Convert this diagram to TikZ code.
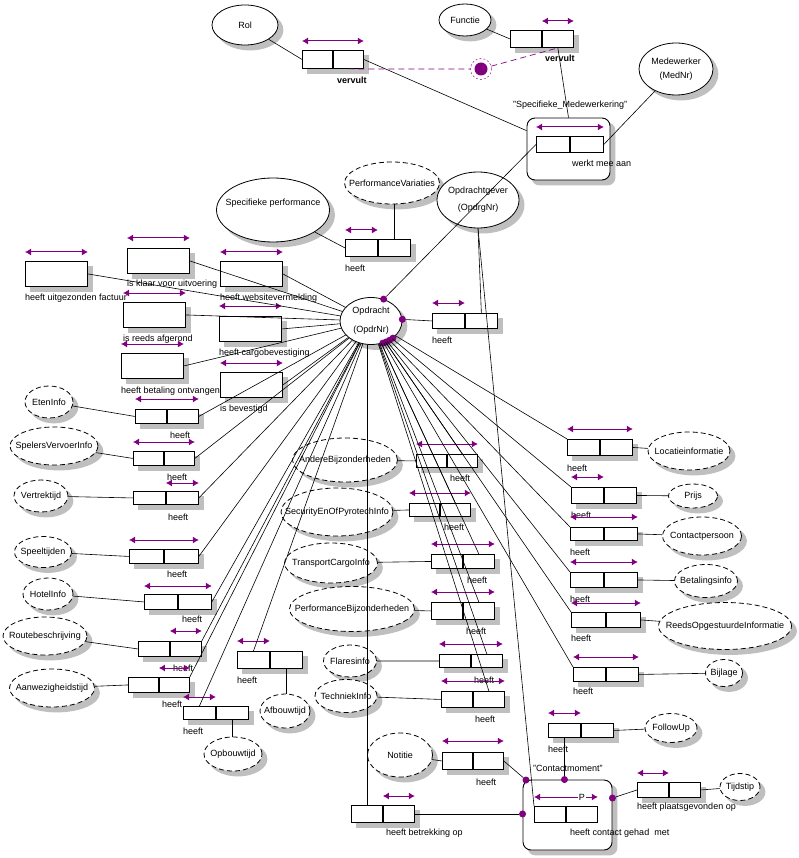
\documentclass[tikz,border=0pt]{standalone}
\usepackage{fontspec}
\setmainfont{Liberation Sans}
\usetikzlibrary{positioning,shapes.geometric,arrows.meta,calc}
\definecolor{orm}{RGB}{128,0,128}
\colorlet{grijs}{black!25}
\pgfdeclarelayer{achter}
\pgfsetlayers{achter,main}

\begin{document}
\begin{tikzpicture}[x=1pt,y=-1pt,font=\fontsize{9}{10}\selectfont,
  ot/.style={ellipse,draw,line width=0.8pt,fill=white,inner sep=0pt},
  vt/.style={ot,dash pattern=on 5pt off 3pt},
  rol/.style 2 args={rectangle,draw,line width=0.9pt,fill=white,inner sep=0pt,anchor=north west,minimum width=#1,minimum height=#2},
  obj/.style={rectangle,draw,rounded corners=8pt,line width=0.9pt,fill=white},
  lbl/.style={anchor=west,inner sep=0pt},
  uq/.style={orm,line width=1pt,{Latex[length=6pt,width=7pt]}-{Latex[length=6pt,width=7pt]}},
  ln/.style={line width=0.6pt},
  pt/.style={circle,fill=orm,inner sep=0pt,minimum size=7pt}]
\useasboundingbox (0,0) rectangle (799,858);

% objecttypes
\node[ot,minimum width=66,minimum height=40,label=center:Rol] (eRol) at (245,25) {};
\node[ot,minimum width=52,minimum height=32,label=center:Functie] (eFun) at (465,20) {};
\node[ot,minimum width=74,minimum height=52,label={[align=center]center:Medewerker\\[4pt](MedNr)}] (eMed) at (676,69) {};
\node[ot,minimum width=82,minimum height=56,label={[align=center]center:Opdrachtgever\\[7pt](OpdrgNr)}] (eGever) at (478,200) {};
\node[ot,minimum width=113,minimum height=64,label={[yshift=7pt]center:Specifieke performance}] (eSpec) at (273,210) {};
\node[ot,minimum width=62,minimum height=47,label={[align=center]center:Opdracht\\[9pt](OpdrNr)}] (eOpdr) at (371,321) {};

% waardetypes
\node[vt,minimum width=95,minimum height=42,label=center:PerformanceVariaties] (ePV) at (392,183) {};
\node[vt,minimum width=48,minimum height=32,label=center:EtenInfo] (eEten) at (49,402) {};
\node[vt,minimum width=88,minimum height=38,label=center:SpelersVervoerInfo] (eSpel) at (54,446) {};
\node[vt,minimum width=54,minimum height=32,label=center:Vertrektijd] (eVert) at (41,496) {};
\node[vt,minimum width=57,minimum height=31,label=center:Speeltijden] (eSpeelt) at (43,552) {};
\node[vt,minimum width=50,minimum height=32,label=center:HotelInfo] (eHotel) at (48,594) {};
\node[vt,minimum width=84,minimum height=38,label=center:Routebeschrijving] (eRoute) at (45,636) {};
\node[vt,minimum width=85,minimum height=38,label=center:Aanwezigheidstijd] (eAanw) at (52,688) {};
\node[vt,minimum width=58,minimum height=34,label=center:Opbouwtijd] (eOpb) at (233,754) {};
\node[vt,minimum width=50,minimum height=34,label=center:Afbouwtijd] (eAfb) at (285,711) {};
\node[vt,minimum width=105,minimum height=44,label=center:AndereBijzonderheden] (eAndere) at (345,460) {};
\node[vt,minimum width=112,minimum height=48,label=center:SecurityEnOfPyrotechInfo] (eSec) at (337,512) {};
\node[vt,minimum width=93,minimum height=40,label=center:TransportCargoInfo] (eTrans) at (331,563) {};
\node[vt,minimum width=125,minimum height=45,label=center:PerformanceBijzonderheden] (ePerfB) at (352,609) {};
\node[vt,minimum width=53,minimum height=32,label=center:Flaresinfo] (eFlares) at (350,661) {};
\node[vt,minimum width=62,minimum height=33,label=center:TechniekInfo] (eTech) at (346,696) {};
\node[vt,minimum width=65,minimum height=44,label=center:Notitie] (eNot) at (400,755) {};
\node[vt,minimum width=82,minimum height=38,label=center:Locatieinformatie] (eLoc) at (689,451) {};
\node[vt,minimum width=49,minimum height=24,label=center:Prijs] (ePrijs) at (693,496) {};
\node[vt,minimum width=79,minimum height=38,label=center:Contactpersoon] (eCp) at (702,536) {};
\node[vt,minimum width=63,minimum height=33,label=center:Betalingsinfo] (eBetal) at (706,581) {};
\node[vt,minimum width=133,minimum height=47,label=center:ReedsOpgestuurdeInformatie] (eReeds) at (725,626) {};
\node[vt,minimum width=37,minimum height=27,label=center:Bijlage] (eBijl) at (724,673) {};
\node[vt,minimum width=52,minimum height=29,label=center:FollowUp] (eFol) at (671,728) {};
\node[vt,minimum width=40,minimum height=27,label=center:Tijdstip] (eTijd) at (740,787) {};

% vervult
\node[rol={30}{18}] (fRolL) at (302,50) {};
\node[rol={30}{18},right=0pt of fRolL] (fRolR) {};
\draw[uq] ([yshift=9pt]fRolL.north west) -- ([yshift=9pt]fRolR.north east);
\node[lbl] (tRol) at (337,80) {\bfseries vervult};
\node[rol={31}{17}] (fFunL) at (510,30) {};
\node[rol={31}{17},right=0pt of fFunL] (fFunR) {};
\draw[uq] ([yshift=9pt]fFunR.north west) -- ([yshift=9pt]fFunR.north east);
\node[lbl] (tFun) at (545,58) {\bfseries vervult};

% deelverzameling
\node[circle,draw=orm,dash pattern=on 2pt off 2pt,minimum size=21pt,inner sep=0pt] (cSub) at (481,69) {};
\node[circle,fill=orm,minimum size=13pt,inner sep=0pt] (cSubIn) at (cSub) {};
\draw[orm,line width=0.7pt,dash pattern=on 6pt off 4pt] (fRolR.south) -- (cSub);
\draw[orm,line width=0.7pt,dash pattern=on 6pt off 4pt] (cSub) -- (fFunR.south);

% Specifieke_Medewerkering
\node[obj,minimum width=83,minimum height=62] (oMed) at (568.5,149) {};
\node[lbl] (tMed) at (513,105) {"Specifieke\_Medewerkering"};
\node[rol={33}{16}] (fMedL) at (536,136) {};
\node[rol={33}{16},right=0pt of fMedL] (fMedR) {};
\draw[uq] ([yshift=9pt]fMedL.north west) -- ([yshift=9pt]fMedR.north east);
\node[lbl] (tMedF) at (572,163) {werkt mee aan};

% Contactmoment
\node[obj,minimum width=89,minimum height=70] (oCon) at (567.5,815) {};
\node[lbl] (tCon) at (533,768) {"Contactmoment"};
\node[rol={31}{16}] (fConL) at (534,806) {};
\node[rol={31}{16},right=0pt of fConL] (fConR) {};
\draw[uq] ([yshift=9pt]fConL.north west) -- node[pos=0.75,fill=white,text=black,inner sep=1pt] (tP) {P} ([yshift=9pt]fConR.north east);
\node[lbl] (tConF) at (570,833) {heeft contact gehad\ \ met};

% unaire feittypes
\node[rol={62}{25}] (uFact) at (25,261) {};
\draw[uq] ([yshift=9pt]uFact.north west) -- ([yshift=9pt]uFact.north east);
\node[lbl] (tFact) at (25,298) {heeft uitgezonden factuur};
\node[rol={62}{25}] (uKlaar) at (127,248) {};
\draw[uq] ([yshift=10pt]uKlaar.north west) -- ([yshift=10pt]uKlaar.north east);
\node[lbl] (tKlaar) at (127,284) {is klaar voor uitvoering};
\node[rol={62}{25}] (uWeb) at (220,261) {};
\draw[uq] ([yshift=9pt]uWeb.north west) -- ([yshift=9pt]uWeb.north east);
\node[lbl] (tWeb) at (220,298) {heeft websitevermelding};
\node[rol={62}{25}] (uAfg) at (123,302) {};
\draw[uq] ([yshift=9pt]uAfg.north west) -- ([yshift=9pt]uAfg.north east);
\node[lbl] (tAfg) at (123,339) {is reeds afgerond};
\node[rol={62}{25}] (uCargo) at (219,316) {};
\draw[uq] ([yshift=10pt]uCargo.north west) -- ([yshift=10pt]uCargo.north east);
\node[lbl] (tCargo) at (219,353) {heeft cargobevestiging};
\node[rol={62}{25}] (uBetaling) at (121,353) {};
\draw[uq] ([yshift=9pt]uBetaling.north west) -- ([yshift=9pt]uBetaling.north east);
\node[lbl] (tBetaling) at (121,391) {heeft betaling ontvangen};
\node[rol={62}{25}] (uBevest) at (220,372) {};
\draw[uq] ([yshift=9pt]uBevest.north west) -- ([yshift=9pt]uBevest.north east);
\node[lbl] (tBevest) at (220,409) {is bevestigd};

% binaire feittypes links
\node[rol={32}{17}] (fSpecL) at (345,239) {};
\node[rol={32}{17},right=0pt of fSpecL] (fSpecR) {};
\draw[uq] ([yshift=9pt]fSpecL.north west) -- ([yshift=9pt]fSpecL.north east);
\node[lbl] (tSpec) at (345,268) {heeft};
\node[rol={32}{15}] (fGeverL) at (432,313) {};
\node[rol={32}{15},right=0pt of fGeverL] (fGeverR) {};
\draw[uq] ([yshift=10pt]fGeverL.north west) -- ([yshift=10pt]fGeverL.north east);
\node[lbl] (tGever) at (432,340) {heeft};
\node[rol={31}{14}] (fEtenL) at (135,409) {};
\node[rol={31}{14},right=0pt of fEtenL] (fEtenR) {};
\draw[uq] ([yshift=10pt]fEtenL.north west) -- ([yshift=10pt]fEtenR.north east);
\node[lbl] (tEten) at (170,435) {heeft};
\node[rol={30}{14}] (fSpelL) at (133,451) {};
\node[rol={30}{14},right=0pt of fSpelL] (fSpelR) {};
\draw[uq] ([yshift=9pt]fSpelL.north west) -- ([yshift=9pt]fSpelR.north east);
\node[lbl] (tSpel) at (167,477) {heeft};
\node[rol={32}{13}] (fVertL) at (133,491) {};
\node[rol={32}{13},right=0pt of fVertL] (fVertR) {};
\draw[uq] ([yshift=8pt]fVertR.north west) -- ([yshift=8pt]fVertR.north east);
\node[lbl] (tVert) at (168,517) {heeft};
\node[rol={34}{14}] (fSpeeltL) at (129,549) {};
\node[rol={34}{14},right=0pt of fSpeeltL] (fSpeeltR) {};
\draw[uq] ([yshift=9pt]fSpeeltL.north west) -- ([yshift=9pt]fSpeeltR.north east);
\node[lbl] (tSpeelt) at (167,574) {heeft};
\node[rol={33}{15}] (fHotelL) at (144,594) {};
\node[rol={33}{15},right=0pt of fHotelL] (fHotelR) {};
\draw[uq] ([yshift=8pt]fHotelL.north west) -- ([yshift=8pt]fHotelR.north east);
\node[lbl] (tHotel) at (182,619) {heeft};
\node[rol={31}{15}] (fRouteL) at (138,641) {};
\node[rol={31}{15},right=0pt of fRouteL] (fRouteR) {};
\draw[uq] ([yshift=10pt]fRouteR.north west) -- ([yshift=10pt]fRouteR.north east);
\node[lbl] (tRoute) at (173,668) {heeft};
\node[rol={30}{15}] (fAanwL) at (128,677) {};
\node[rol={30}{15},right=0pt of fAanwL] (fAanwR) {};
\draw[uq] ([yshift=9pt]fAanwR.north west) -- ([yshift=9pt]fAanwR.north east);
\node[lbl] (tAanw) at (162,704) {heeft};
\node[rol={32}{13}] (fOpbL) at (183,706) {};
\node[rol={32}{13},right=0pt of fOpbL] (fOpbR) {};
\draw[uq] ([yshift=9pt]fOpbL.north west) -- ([yshift=9pt]fOpbL.north east);
\node[lbl] (tOpb) at (183,731) {heeft};
\node[rol={32}{17}] (fAfbL) at (237,651) {};
\node[rol={32}{17},right=0pt of fAfbL] (fAfbR) {};
\draw[uq] ([yshift=10pt]fAfbL.north west) -- ([yshift=10pt]fAfbL.north east);
\node[lbl] (tAfb) at (237,680) {heeft};

% binaire feittypes midden
\node[rol={30}{13}] (fAndereL) at (416,454) {};
\node[rol={30}{13},right=0pt of fAndereL] (fAndereR) {};
\draw[uq] ([yshift=10pt]fAndereL.north west) -- ([yshift=10pt]fAndereR.north east);
\node[lbl] (tAndere) at (450,478) {heeft};
\node[rol={30}{13}] (fSecL) at (409,503) {};
\node[rol={30}{13},right=0pt of fSecL] (fSecR) {};
\draw[uq] ([yshift=10pt]fSecL.north west) -- ([yshift=10pt]fSecR.north east);
\node[lbl] (tSec) at (444,527) {heeft};
\node[rol={31}{14}] (fTransL) at (431,554) {};
\node[rol={31}{14},right=0pt of fTransL] (fTransR) {};
\draw[uq] ([yshift=10pt]fTransL.north west) -- ([yshift=10pt]fTransR.north east);
\node[lbl] (tTrans) at (467,580) {heeft};
\node[rol={31}{17}] (fPerfBL) at (431,602) {};
\node[rol={31}{17},right=0pt of fPerfBL] (fPerfBR) {};
\draw[uq] ([yshift=10pt]fPerfBL.north west) -- ([yshift=10pt]fPerfBR.north east);
\node[lbl] (tPerfB) at (466,631) {heeft};
\node[rol={31}{13}] (fFlaresL) at (439,654) {};
\node[rol={31}{13},right=0pt of fFlaresL] (fFlaresR) {};
\draw[uq] ([yshift=10pt]fFlaresL.north west) -- ([yshift=10pt]fFlaresR.north east);
\node[lbl] (tFlares) at (474,680) {heeft};
\node[rol={31}{16}] (fTechL) at (441,691) {};
\node[rol={31}{16},right=0pt of fTechL] (fTechR) {};
\draw[uq] ([yshift=10pt]fTechL.north west) -- ([yshift=10pt]fTechR.north east);
\node[lbl] (tTech) at (475,719) {heeft};
\node[rol={30}{17}] (fNotL) at (442,752) {};
\node[rol={30}{17},right=0pt of fNotL] (fNotR) {};
\draw[uq] ([yshift=11pt]fNotL.north west) -- ([yshift=11pt]fNotR.north east);
\node[lbl] (tNot) at (476,782) {heeft};
\node[rol={31}{17}] (fBetrL) at (351,805) {};
\node[rol={31}{17},right=0pt of fBetrL] (fBetrR) {};
\draw[uq] ([yshift=9pt]fBetrR.north west) -- ([yshift=9pt]fBetrR.north east);
\node[lbl] (tBetr) at (386,833) {heeft betrekking op};

% binaire feittypes rechts
\node[rol={32}{16}] (fLocL) at (567,439) {};
\node[rol={32}{16},right=0pt of fLocL] (fLocR) {};
\draw[uq] ([yshift=10pt]fLocL.north west) -- ([yshift=10pt]fLocR.north east);
\node[lbl] (tLoc) at (567,468) {heeft};
\node[rol={32}{16}] (fPrijsL) at (571,487) {};
\node[rol={32}{16},right=0pt of fPrijsL] (fPrijsR) {};
\draw[uq] ([yshift=10pt]fPrijsL.north west) -- ([yshift=10pt]fPrijsL.north east);
\node[lbl] (tPrijs) at (571,515) {heeft};
\node[rol={33}{13}] (fCpL) at (570,527) {};
\node[rol={33}{13},right=0pt of fCpL] (fCpR) {};
\draw[uq] ([yshift=10pt]fCpL.north west) -- ([yshift=10pt]fCpR.north east);
\node[lbl] (tCp) at (570,552) {heeft};
\node[rol={33}{15}] (fBetalL) at (570,572) {};
\node[rol={33}{15},right=0pt of fBetalL] (fBetalR) {};
\draw[uq] ([yshift=10pt]fBetalL.north west) -- ([yshift=10pt]fBetalR.north east);
\node[lbl] (tBetal) at (570,599) {heeft};
\node[rol={34}{15}] (fReedsL) at (571,612) {};
\node[rol={34}{15},right=0pt of fReedsL] (fReedsR) {};
\draw[uq] ([yshift=9pt]fReedsL.north west) -- ([yshift=9pt]fReedsR.north east);
\node[lbl] (tReeds) at (571,638) {heeft};
\node[rol={32}{14}] (fBijlL) at (573,667) {};
\node[rol={32}{14},right=0pt of fBijlL] (fBijlR) {};
\draw[uq] ([yshift=10pt]fBijlL.north west) -- ([yshift=10pt]fBijlR.north east);
\node[lbl] (tBijl) at (573,691) {heeft};
\node[rol={32}{14}] (fFolL) at (548,723) {};
\node[rol={32}{14},right=0pt of fFolL] (fFolR) {};
\draw[uq] ([yshift=10pt]fFolL.north west) -- ([yshift=10pt]fFolL.north east);
\node[lbl] (tFol) at (548,749) {heeft};
\node[rol={31}{15}] (fTijdL) at (637,782) {};
\node[rol={31}{15},right=0pt of fTijdL] (fTijdR) {};
\draw[uq] ([yshift=9pt]fTijdL.north west) -- ([yshift=9pt]fTijdL.north east);
\node[lbl] (tTijd) at (637,807) {heeft plaatsgevonden op};

% schaduwen
\begin{pgfonlayer}{achter}
\foreach \k in {fRolL,fRolR,fFunL,fFunR,uFact,uKlaar,uWeb,uAfg,uCargo,uBetaling,uBevest,
  fSpecL,fSpecR,fGeverL,fGeverR,fEtenL,fEtenR,fSpelL,fSpelR,fVertL,fVertR,fSpeeltL,fSpeeltR,
  fHotelL,fHotelR,fRouteL,fRouteR,fAanwL,fAanwR,fOpbL,fOpbR,fAfbL,fAfbR,fAndereL,fAndereR,
  fSecL,fSecR,fTransL,fTransR,fPerfBL,fPerfBR,fFlaresL,fFlaresR,fTechL,fTechR,fNotL,fNotR,
  fBetrL,fBetrR,fLocL,fLocR,fPrijsL,fPrijsR,fCpL,fCpR,fBetalL,fBetalR,fReedsL,fReedsR,
  fBijlL,fBijlR,fFolL,fFolR,fTijdL,fTijdR}
  \fill[grijs] ([shift={(5pt,-5pt)}]\k.south west) rectangle ([shift={(5pt,-5pt)}]\k.north east);
\foreach \k in {oMed,oCon}
  \fill[grijs,rounded corners=8pt] ([shift={(5pt,-5pt)}]\k.south west) rectangle ([shift={(5pt,-5pt)}]\k.north east);
\foreach \k in {eRol,eFun,eMed,eGever,eSpec,eOpdr,ePV,eEten,eSpel,eVert,eSpeelt,eHotel,eRoute,
  eAanw,eOpb,eAfb,eAndere,eSec,eTrans,ePerfB,eFlares,eTech,eNot,eLoc,ePrijs,eCp,eBetal,
  eReeds,eBijl,eFol,eTijd}
  \fill[grijs] let \p1=(\k.east), \p2=(\k.north), \p3=(\k.center) in
    ([shift={(5pt,-5pt)}]\k.center) ellipse ({\x1-\x3} and {\y2-\y3});
\end{pgfonlayer}

% verplichte rollen
\node[pt] (dO1) at (eOpdr.60) {};
\node[pt] (dO2) at (eOpdr.3) {};
\node[pt] (dO3) at (eOpdr.-62) {};
\node[pt] (dO4) at (eOpdr.-54) {};
\node[pt] (dO5) at (eOpdr.-46) {};
\node[pt] (dO6) at (eOpdr.-38) {};
\node[pt] (dNot) at (526,780) {};
\node[pt] (dFol) at (fFolL.south |- oCon.north) {};
\node[pt] (dBetr) at (fBetrR.east -| oCon.west) {};
\node[pt] (dTijd) at ([yshift=17pt]oCon.east) {};

% verbindingen
\draw[ln] (eRol) -- (fRolL.west);
\draw[ln] (eFun) -- (fFunL.west);
\draw[ln] (fRolR.east) -- (oMed);
\draw[ln] (fFunR.south) -- (oMed.north);
\draw[ln] (eMed) -- (fMedR.east);
\draw[ln] (fMedL.west) -- (dO1);
\draw[ln] (eSpec) -- (fSpecL.west);
\draw[ln] (fSpecR.north |- ePV.south) -- (fSpecR.north);
\draw[ln] (fGeverL.west) -- (dO2);
\draw[ln] (eGever.south) -- (fGeverR.north);
\draw[ln] (eGever.south) -- (fConL.north west);
\draw[ln] (eEten) -- (fEtenL.west);
\draw[ln] (eSpel) -- (fSpelL.west);
\draw[ln] (eVert) -- (fVertL.west);
\draw[ln] (eSpeelt) -- (fSpeeltL.west);
\draw[ln] (eHotel) -- (fHotelL.west);
\draw[ln] (eRoute) -- (fRouteL.west);
\draw[ln] (eAanw) -- (fAanwL.west);
\draw[ln] (fOpbR.south) -- (fOpbR.south |- eOpb.north);
\draw[ln] (fAfbR.south) -- (fAfbR.south |- eAfb.north);
\draw[ln] (eAndere) -- (fAndereL.west);
\draw[ln] (eSec) -- (fSecL.west);
\draw[ln] (eTrans) -- (fTransL.west);
\draw[ln] (ePerfB) -- (fPerfBL.west);
\draw[ln] (eFlares) -- (fFlaresL.west);
\draw[ln] (eTech) -- (fTechL.west);
\draw[ln] (eNot) -- (fNotL.west);
\draw[ln] (fLocR.east) -- (eLoc);
\draw[ln] (fPrijsR.east) -- (ePrijs);
\draw[ln] (fCpR.east) -- (eCp);
\draw[ln] (fBetalR.east) -- (eBetal);
\draw[ln] (fReedsR.east) -- (eReeds);
\draw[ln] (fBijlR.east) -- (eBijl);
\draw[ln] (fFolR.east) -- (eFol);
\draw[ln] (fTijdR.east) -- (eTijd);
\draw[ln] (fNotR.east) -- (dNot);
\draw[ln] (fFolL.south) -- (dFol);
\draw[ln] (fBetrR.east) -- (dBetr);
\draw[ln] (dTijd) -- (fTijdL.west);
\draw[ln] (fBetrL.north) -- (fBetrL.north |- eOpdr.south);
\draw[ln] (uFact.east) -- (eOpdr);
\draw[ln] (uKlaar.east) -- (eOpdr);
\draw[ln] (uWeb.east) -- (eOpdr);
\draw[ln] (uAfg.east) -- (eOpdr);
\draw[ln] (uCargo.east) -- (eOpdr);
\draw[ln] (uBetaling.east) -- (eOpdr);
\draw[ln] (uBevest.east) -- (eOpdr);
\draw[ln] (fEtenR.east) -- (eOpdr);
\draw[ln] (fSpelR.east) -- (eOpdr);
\draw[ln] (fVertR.east) -- (eOpdr);
\draw[ln] (fSpeeltR.east) -- (eOpdr);
\draw[ln] (fHotelR.east) -- (eOpdr);
\draw[ln] (fRouteR.north east) -- (eOpdr);
\draw[ln] (fAanwR.north east) -- (eOpdr);
\draw[ln] (fOpbL.north) -- (eOpdr);
\draw[ln] (fAfbL.north) -- (eOpdr);
\draw[ln] (fAndereR.north) -- (eOpdr);
\draw[ln] (fSecR.north) -- (eOpdr);
\draw[ln] (fTransR.north) -- (eOpdr);
\draw[ln] (fPerfBR.north) -- (eOpdr);
\draw[ln] (fFlaresR.north) -- (eOpdr);
\draw[ln] (fTechR.north) -- (eOpdr);
\draw[ln] (fLocL.north west) -- (eOpdr);
\draw[ln] (fPrijsL.north west) -- (eOpdr);
\draw[ln] (fCpL.north west) -- (eOpdr);
\draw[ln] (fBetalL.north west) -- (eOpdr);
\draw[ln] (fReedsL.north west) -- (eOpdr);
\draw[ln] (fBijlL.north west) -- (eOpdr);
\end{tikzpicture}
\end{document}
